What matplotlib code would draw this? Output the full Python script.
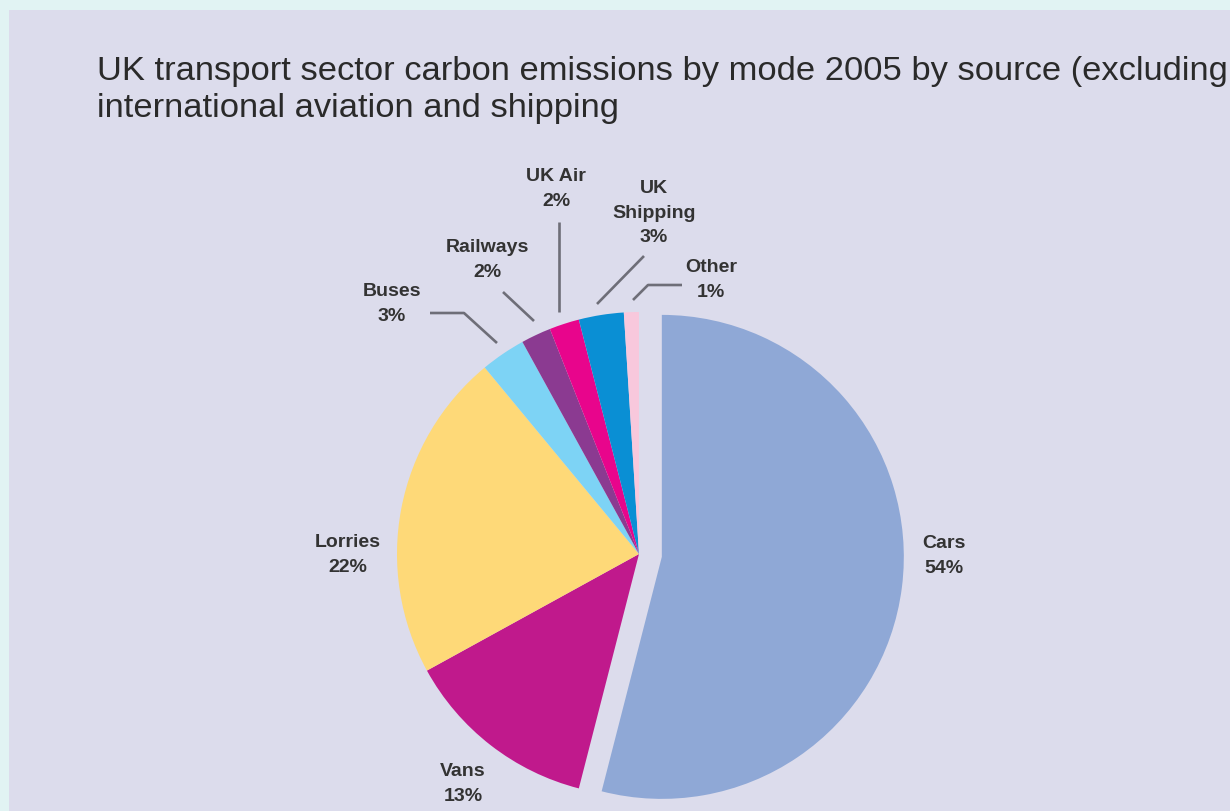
# plot.py
# UK transport sector carbon emissions pie chart (2005)

import matplotlib
matplotlib.use("Agg")
import matplotlib.pyplot as plt
from matplotlib.patches import Rectangle

W, H = 1230, 812

# data, clockwise from twelve o'clock
modes = ["Cars", "Vans", "Lorries", "Buses", "Railways", "UK Air", "UK\nShipping", "Other"]
shares = [54, 13, 22, 3, 2, 2, 3, 1]
colors = ["#8fa8d6", "#c0198c", "#fed978", "#7dd3f5", "#8b3a91", "#e8058c", "#0a8fd4", "#f8c8dc"]

TITLE_1 = "UK transport sector carbon emissions by mode 2005 by source (excluding"
TITLE_2 = "international aviation and shipping"

# layout in pixel coords (y measured from the top)
CENTER = (639, 555)
RADIUS = 242
CARS_OFFSET = 23

label_pos = {
    "Cars": (944, 556),
    "Vans": (463, 784),
    "Lorries": (348, 555),
    "Buses": (392, 304),
    "Railways": (487, 260),
    "UK Air": (556, 189),
    "UK\nShipping": (654, 213),
    "Other": (711, 280),
}

# leader lines for the small slices
leaders = {
    "Buses": [(430, 314), (464, 314), (497, 344)],
    "Railways": [(503, 293), (534, 322)],
    "UK Air": [(559, 223), (559, 313)],
    "UK\nShipping": [(644, 257), (597, 305)],
    "Other": [(682, 286), (648, 286), (633, 301)],
}


def fy(y):
    # flip a top-down pixel y into data coords
    return H - y


def main():
    fig = plt.figure(figsize=(W / 100, H / 100), dpi=100)
    fig.patch.set_facecolor("#e1f3f3")
    fig.patches.append(Rectangle((9 / W, 0), 1, 1 - 11 / H, transform=fig.transFigure,
                                 facecolor="#dcdcec", edgecolor="none", zorder=-5))

    ax = fig.add_axes([0, 0, 1, 1])
    ax.set_zorder(1)
    ax.patch.set_alpha(0)

    explode = [CARS_OFFSET] + [0] * (len(shares) - 1)
    ax.pie(shares, colors=colors, explode=explode, startangle=90, counterclock=False,
           center=(CENTER[0], fy(CENTER[1])), radius=RADIUS, frame=True,
           wedgeprops=dict(linewidth=0))
    ax.set_xlim(0, W)
    ax.set_ylim(0, H)
    ax.set_aspect("equal")
    ax.axis("off")

    for name, share in zip(modes, shares):
        x, y = label_pos[name]
        ax.text(x, fy(y), f"{name}\n{share}%", ha="center", va="center",
                multialignment="center", fontsize=14, fontweight="bold",
                family="Liberation Sans", color="#333333", linespacing=1.55)

    for name, pts in leaders.items():
        xs = [p[0] for p in pts]
        ys = [fy(p[1]) for p in pts]
        ax.plot(xs, ys, color="#6e6e78", lw=1.9, solid_capstyle="butt")

    fig.text(97 / W, 1 - 80 / H, TITLE_1, fontsize=24.8, family="Liberation Sans",
             color="#2a2a2a", va="baseline")
    fig.text(97 / W, 1 - 117 / H, TITLE_2, fontsize=24.8, family="Liberation Sans",
             color="#2a2a2a", va="baseline")

    fig.savefig("out.png", dpi=100, facecolor=fig.get_facecolor())


if __name__ == "__main__":
    main()
